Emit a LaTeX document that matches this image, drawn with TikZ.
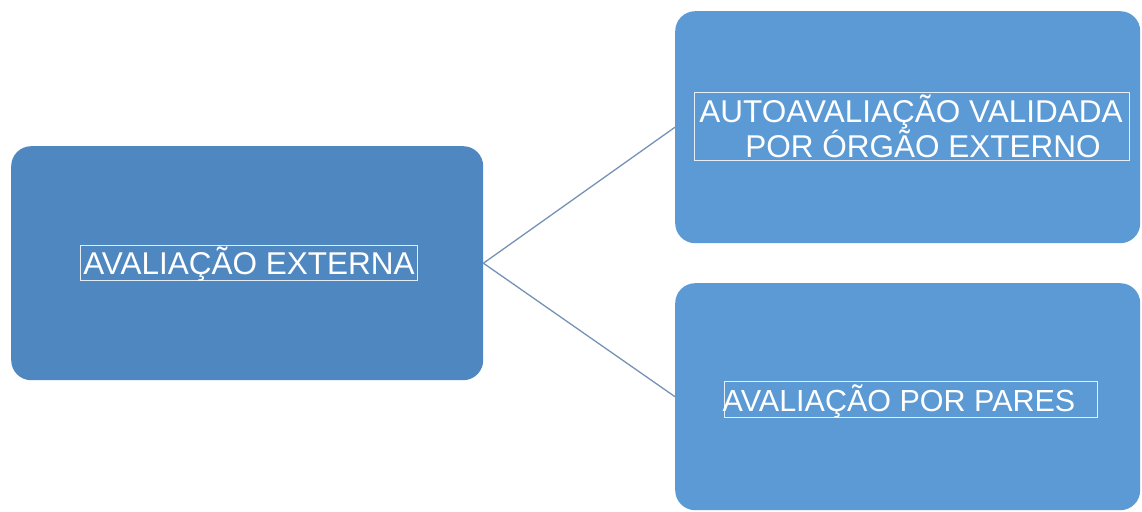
\documentclass[tikz,border=0pt]{standalone}
\usepackage{fontspec}
\setmainfont{Liberation Sans}
\definecolor{boxL}{RGB}{79,136,193}
\definecolor{boxR}{RGB}{91,154,212}
\definecolor{conn}{RGB}{118,146,180}
\begin{document}
\begin{tikzpicture}[x=1pt,y=-1pt,
  card/.style={rectangle,rounded corners=20pt,inner sep=0pt,anchor=north west},
  frame/.style={rectangle,draw=white,draw opacity=0.85,line width=0.6pt,inner sep=0pt,anchor=north west},
  label/.style={text=white,inner sep=0pt,anchor=base,font=\fontsize{31.5}{35}\selectfont},
  link/.style={draw=conn,line width=1.3pt}]
\useasboundingbox (0,0) rectangle (1142,511);
\fill[white] (0,0) rectangle (1142,511);
% boxes
\node[card,fill=boxL,minimum width=472pt,minimum height=234pt] (ext) at (11,146) {};
\node[card,fill=boxR,minimum width=465pt,minimum height=232pt] (auto) at (675,11) {};
\node[card,fill=boxR,minimum width=465pt,minimum height=227pt] (pares) at (675,283) {};
% connectors
\draw[link] (ext.east) -- (auto.west);
\draw[link] (ext.east) -- (pares.west);
% text frames
\node[frame,minimum width=337pt,minimum height=35pt] (f1) at (80,245) {};
\node[frame,minimum width=435pt,minimum height=68pt] (f2) at (694,92) {};
\node[frame,minimum width=373pt,minimum height=36pt] (f3) at (724,381) {};
% labels
\node[label] (t1) at (249,274) {AVALIAÇÃO EXTERNA};
\node[label] (t2a) at (911,122) {AUTOAVALIAÇÃO VALIDADA};
\node[label] (t2b) at (923,157) {POR ÓRGÃO EXTERNO};
\node[label,font=\fontsize{30.5}{35}\selectfont] (t3) at (899,411) {AVALIAÇÃO POR PARES};
\end{tikzpicture}
\end{document}
